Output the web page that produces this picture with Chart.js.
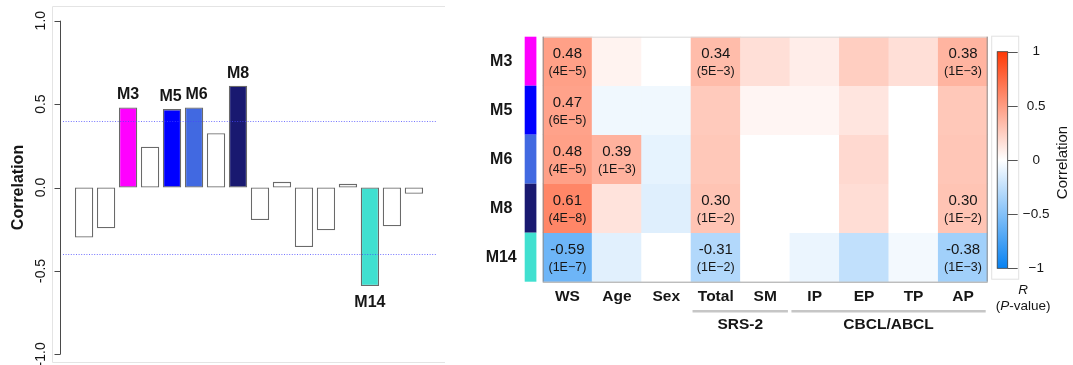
<!DOCTYPE html>
<html>
<head>
<meta charset="utf-8">
<script src="https://cdn.jsdelivr.net/npm/chart.js@4.4.1/dist/chart.umd.min.js"></script>
<style>
  html, body { margin: 0; padding: 0; background: #ffffff; }
  #wrap { position: relative; width: 1073px; height: 365px; overflow: hidden; background: #ffffff; }
  #wrap canvas { position: absolute; left: 0; top: 0; }
</style>
</head>
<body>
<div id="wrap">
  <canvas id="bars" width="1073" height="365"></canvas>
  <canvas id="heat" width="1073" height="365"></canvas>
</div>
<script>
const FONT = '"Liberation Sans", Arial, Helvetica, sans-serif';
const INK = '#161616';

// ---- Left panel: module correlation with WS ----
const modules = ['M1','M2','M3','M4','M5','M6','M7','M8','M9','M10','M11','M12','M13','M14','M15','M16'];
const moduleCorr = [-0.30, -0.245, 0.48, 0.245, 0.47, 0.48, 0.325, 0.61, -0.195, 0.034, -0.357, -0.257, 0.022, -0.59, -0.233, -0.038];
const highlighted = ['M3', 'M5', 'M6', 'M8', 'M14'];
const highlightColors = ['#ff00ff', '#0000ff', '#4169e1', '#191970', '#40e0d0'];
const highlightLabelShift = [0, -1.5, 2.5, 0, 0];
const corrTicks = [-1, -0.5, 0, 0.5, 1];
const corrTickLabels = ['-1.0', '-0.5', '0.0', '0.5', '1.0'];
const thresholds = [0.4, -0.4];

// ---- Right panel: module eigengene vs. phenotype correlations ----
const heatRows = ['M3', 'M5', 'M6', 'M8', 'M14'];
const heatCols = ['WS', 'Age', 'Sex', 'Total', 'SM', 'IP', 'EP', 'TP', 'AP'];
const rM3  = [0.48,  0.06,  0.00,  0.34, 0.16,  0.09,  0.25,  0.16,  0.38];
const rM5  = [0.47, -0.06, -0.06,  0.27, 0.05,  0.05,  0.13,  0.00,  0.28];
const rM6  = [0.48,  0.39, -0.10,  0.28, 0.00,  0.00,  0.19,  0.00,  0.29];
const rM8  = [0.61,  0.14, -0.13,  0.30, 0.00,  0.00,  0.17,  0.00,  0.30];
const rM14 = [-0.59, -0.12, 0.00, -0.31, 0.00, -0.08, -0.25, -0.05, -0.38];
const pM3  = ['4E\u22125', null, null, '5E\u22123', null, null, null, null, '1E\u22123'];
const pM5  = ['6E\u22125', null, null, null, null, null, null, null, null];
const pM6  = ['4E\u22125', '1E\u22123', null, null, null, null, null, null, null];
const pM8  = ['4E\u22128', null, null, '1E\u22122', null, null, null, null, '1E\u22122'];
const pM14 = ['1E\u22127', null, null, '1E\u22122', null, null, null, null, '1E\u22123'];
const heatR = [rM3, rM5, rM6, rM8, rM14];
const heatP = [pM3, pM5, pM6, pM8, pM14];
const groupLabels = ['SRS-2', 'CBCL/ABCL'];
const groupFirstCol = ['Total', 'IP'];
const groupLastCol = ['SM', 'AP'];
const legendTicks = [1, 0.5, 0, -0.5, -1];
const legendTickLabels = ['1', '0.5', '0', '\u22120.5', '\u22121'];

// blue - white - red colour ramp for correlation
const RED_END = [255, 57, 5];
const BLUE_END = [8, 130, 241];
function corrColor(v) {
  const t = Math.min(1, Math.abs(v));
  const e = v >= 0 ? RED_END : BLUE_END;
  const c = e.map(k => Math.round(255 + (k - 255) * t));
  return 'rgb(' + c.join(',') + ')';
}

// barplot layout: unit-width bars separated by 0.2 units, range padded by 4%
const barSpace = 0.2, barWidth = 1;
const barPos = modules.map((m, i) => barSpace + barWidth / 2 + i * (barSpace + barWidth));
const xSpan = barPos.length * (barSpace + barWidth) - barSpace;
const xPad = xSpan * 0.04;

const barDecor = {
  id: 'barDecor',
  beforeDraw(chart) {
    const ctx = chart.ctx;
    ctx.save();
    ctx.strokeStyle = '#e4e4e4';
    ctx.lineWidth = 1;
    ctx.beginPath();
    ctx.moveTo(52.5, 362.5); ctx.lineTo(52.5, 6.5); ctx.lineTo(445, 6.5);
    ctx.moveTo(52.5, 362.5); ctx.lineTo(445, 362.5);
    ctx.stroke();
    ctx.restore();
  },
  afterDatasetsDraw(chart) {
    const ctx = chart.ctx;
    const ys = chart.scales.y;
    const area = chart.chartArea;
    ctx.save();
    // reference lines
    ctx.strokeStyle = 'rgba(70,70,255,0.75)';
    ctx.lineWidth = 1;
    ctx.setLineDash([1, 1.6]);
    thresholds.forEach(t => {
      const y = Math.round(ys.getPixelForValue(t)) + 0.5;
      ctx.beginPath(); ctx.moveTo(area.left + 2, y); ctx.lineTo(area.right, y); ctx.stroke();
    });
    ctx.setLineDash([]);

    // y axis
    const ax = Math.round(area.left) - 0.5;
    ctx.strokeStyle = '#4a4a4a';
    ctx.lineWidth = 1;
    ctx.beginPath();
    ctx.moveTo(ax, ys.getPixelForValue(corrTicks[0]));
    ctx.lineTo(ax, ys.getPixelForValue(corrTicks[corrTicks.length - 1]));
    corrTicks.forEach(t => {
      const y = Math.round(ys.getPixelForValue(t)) + 0.5;
      ctx.moveTo(ax - 6, y); ctx.lineTo(ax, y);
    });
    ctx.stroke();
    ctx.fillStyle = INK;
    ctx.font = '14px ' + FONT;
    ctx.textAlign = 'center';
    ctx.textBaseline = 'middle';
    corrTicks.forEach((t, i) => {
      ctx.save();
      ctx.translate(41.5, ys.getPixelForValue(t));
      ctx.rotate(-Math.PI / 2);
      ctx.fillText(corrTickLabels[i], 0, 0);
      ctx.restore();
    });
    ctx.save();
    ctx.font = 'bold 16px ' + FONT;
    ctx.translate(18.5, ys.getPixelForValue(0));
    ctx.rotate(-Math.PI / 2);
    ctx.fillText('Correlation', 0, 0);
    ctx.restore();

    // module names on highlighted bars
    const meta = chart.getDatasetMeta(0);
    ctx.font = 'bold 16px ' + FONT;
    ctx.textBaseline = 'alphabetic';
    highlighted.forEach((name, k) => {
      const i = modules.indexOf(name);
      const el = meta.data[i];
      const v = moduleCorr[i];
      const y = v >= 0 ? el.y - 8 : el.y + 21.5;
      ctx.fillText(name, el.x + highlightLabelShift[k], y);
    });
    ctx.restore();
  }
};

new Chart(document.getElementById('bars'), {
  type: 'bar',
  data: {
    datasets: [{
      data: modules.map((m, i) => ({ x: barPos[i], y: moduleCorr[i] })),
      backgroundColor: modules.map(m => {
        const k = highlighted.indexOf(m);
        return k >= 0 ? highlightColors[k] : '#ffffff';
      }),
      borderColor: '#6a6a6a',
      borderWidth: 1.3,
      borderSkipped: false,
      barPercentage: 1,
      categoryPercentage: barWidth / (barWidth + barSpace)
    }]
  },
  options: {
    responsive: false,
    animation: false,
    events: [],
    layout: { padding: { left: 61, right: 636, top: 14, bottom: 4 } },
    plugins: { legend: { display: false }, tooltip: { enabled: false } },
    scales: {
      x: {
        type: 'linear', display: false, offset: false,
        min: barSpace - xPad, max: xSpan + barSpace + xPad,
        afterBuildTicks: s => { s.ticks = barPos.map(v => ({ value: v })); }
      },
      y: { display: false, min: -1.04, max: 1.04 }
    }
  },
  plugins: [barDecor]
});

// ---- heatmap ----
const sidebarColors = heatRows.map(r => highlightColors[highlighted.indexOf(r)]);

const heatDecor = {
  id: 'heatDecor',
  afterDatasetsDraw(chart) {
    const ctx = chart.ctx;
    const xs = chart.scales.x, ys = chart.scales.y;
    const area = chart.chartArea;
    const colW = (area.right - area.left) / heatCols.length;
    ctx.save();

    // frame
    ctx.lineWidth = 1;
    ctx.strokeStyle = '#d9d9d9';
    ctx.beginPath(); ctx.moveTo(area.left, area.top + 0.5); ctx.lineTo(area.right, area.top + 0.5); ctx.stroke();
    ctx.strokeStyle = '#8c8c8c';
    ctx.beginPath();
    ctx.moveTo(area.left + 0.5, area.top); ctx.lineTo(area.left + 0.5, area.bottom);
    ctx.moveTo(area.right - 0.5, area.top); ctx.lineTo(area.right - 0.5, area.bottom);
    ctx.stroke();
    ctx.strokeStyle = '#a0a0a0';
    ctx.beginPath(); ctx.moveTo(area.left, area.bottom + 0.5); ctx.lineTo(area.right, area.bottom + 0.5); ctx.stroke();

    // cell annotations
    ctx.fillStyle = INK;
    ctx.textAlign = 'center';
    ctx.textBaseline = 'middle';
    heatRows.forEach((row, i) => {
      const meta = chart.getDatasetMeta(i);
      heatCols.forEach((col, j) => {
        const p = heatP[i][j];
        if (!p) return;
        const c = meta.data[j].getCenterPoint();
        ctx.font = '15px ' + FONT;
        ctx.fillText(heatR[i][j].toFixed(2), c.x, c.y - 7.5);
        ctx.font = '12.5px ' + FONT;
        ctx.fillText('(' + p + ')', c.x, c.y + 10);
      });
    });

    // row annotation bar and row names
    heatRows.forEach((row, i) => {
      const y0 = ys.getPixelForValue(i), y1 = ys.getPixelForValue(i + 1);
      ctx.fillStyle = sidebarColors[i];
      ctx.fillRect(area.left - 18, y0, 11.7, y1 - y0);
      ctx.fillStyle = INK;
      ctx.font = 'bold 16px ' + FONT;
      ctx.fillText(row, area.left - 41.5, (y0 + y1) / 2);
    });

    // column names
    ctx.font = 'bold 15.5px ' + FONT;
    heatCols.forEach((col, j) => {
      ctx.fillText(col, xs.getPixelForValue(j), area.bottom + 15.5);
    });

    // column groups
    groupLabels.forEach((g, k) => {
      const a = heatCols.indexOf(groupFirstCol[k]);
      const b = heatCols.indexOf(groupLastCol[k]);
      const x0 = xs.getPixelForValue(a) - colW / 2 + 1.5;
      const x1 = xs.getPixelForValue(b) + colW / 2 - 2;
      ctx.strokeStyle = '#c6c6c6';
      ctx.lineWidth = 2.5;
      ctx.beginPath(); ctx.moveTo(x0, area.bottom + 29.5); ctx.lineTo(x1, area.bottom + 29.5); ctx.stroke();
      ctx.fillStyle = INK;
      ctx.font = 'bold 15.5px ' + FONT;
      ctx.fillText(g, (x0 + x1) / 2, area.bottom + 43.5);
    });

    // colour legend
    const lgLeft = area.right + 9.5, lgW = 10.5;
    const lgTop = 51.7, lgBottom = 268.3;
    const lgY = v => lgTop + (1 - v) / 2 * (lgBottom - lgTop);
    ctx.strokeStyle = '#e2e2e2';
    ctx.lineWidth = 1;
    ctx.strokeRect(area.right + 4, area.top - 0.5, 27, 243);
    const grad = ctx.createLinearGradient(0, lgTop, 0, lgBottom);
    grad.addColorStop(0, corrColor(1));
    grad.addColorStop(0.5, corrColor(0));
    grad.addColorStop(1, corrColor(-1));
    ctx.fillStyle = grad;
    ctx.fillRect(lgLeft, lgTop, lgW, lgBottom - lgTop);
    ctx.strokeStyle = '#3c3c3c';
    ctx.lineWidth = 0.8;
    ctx.strokeRect(lgLeft, lgTop, lgW, lgBottom - lgTop);
    ctx.strokeStyle = '#555555';
    ctx.lineWidth = 1;
    ctx.beginPath();
    legendTicks.forEach(t => {
      const y = Math.round(lgY(t)) + 0.5;
      ctx.moveTo(lgLeft + lgW, y); ctx.lineTo(lgLeft + lgW + 10, y);
    });
    ctx.stroke();
    ctx.fillStyle = INK;
    ctx.font = '13.5px ' + FONT;
    legendTicks.forEach((t, i) => ctx.fillText(legendTickLabels[i], area.right + 48.5, lgY(t)));
    ctx.save();
    ctx.font = '15px ' + FONT;
    ctx.translate(area.right + 75.5, lgY(0) + 2.5);
    ctx.rotate(-Math.PI / 2);
    ctx.fillText('Correlation', 0, 0);
    ctx.restore();

    // R (P-value) caption
    const cx = area.right + 35.5;
    ctx.font = 'italic 13.5px ' + FONT;
    ctx.fillText('R', cx, area.bottom + 8.5);
    const parts = [['(', ''], ['P', 'italic '], ['-value)', '']];
    let total = 0;
    parts.forEach(p => { ctx.font = p[1] + '13.5px ' + FONT; total += ctx.measureText(p[0]).width; });
    let x = cx - total / 2;
    ctx.textAlign = 'left';
    parts.forEach(p => {
      ctx.font = p[1] + '13.5px ' + FONT;
      ctx.fillText(p[0], x, area.bottom + 25);
      x += ctx.measureText(p[0]).width;
    });
    ctx.restore();
  }
};

new Chart(document.getElementById('heat'), {
  type: 'bar',
  data: {
    labels: heatCols,
    datasets: heatRows.map((row, i) => ({
      label: row,
      data: heatCols.map(() => 1),
      backgroundColor: heatR[i].map(corrColor),
      borderWidth: 0,
      barPercentage: 1,
      categoryPercentage: 1
    }))
  },
  options: {
    responsive: false,
    animation: false,
    events: [],
    layout: { padding: { left: 542.7, right: 85.3, top: 36.7, bottom: 83.3 } },
    plugins: { legend: { display: false }, tooltip: { enabled: false } },
    scales: {
      x: { display: false, stacked: true },
      y: { display: false, stacked: true, min: 0, max: heatRows.length, reverse: true }
    }
  },
  plugins: [heatDecor]
});
</script>
</body>
</html>
